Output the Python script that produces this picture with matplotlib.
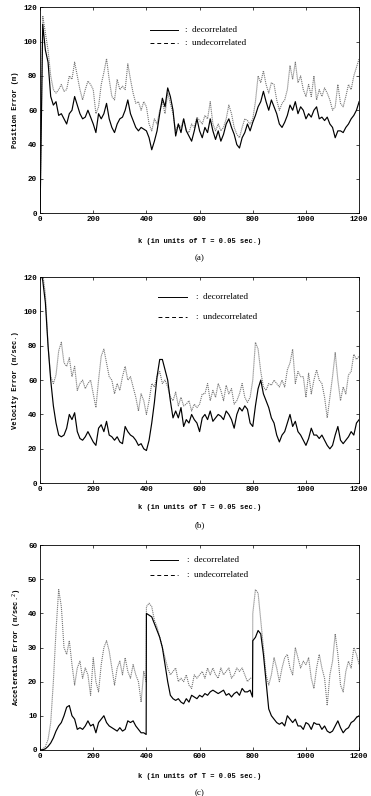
import numpy as np
import matplotlib
matplotlib.use("Agg")
import matplotlib.pyplot as plt

# time index (every 10 samples)
k = list(range(0, 1201, 10))

# (a) position error (m)
pos_dec = [0, 110, 95, 88, 68, 63, 65, 57, 58, 55, 52, 58, 60, 68, 63, 58, 55, 56, 60, 56,
           52, 47, 58, 55, 58, 64, 55, 50, 47, 52, 55, 56, 60, 66, 58, 54, 50, 48, 50, 49,
           48, 44, 37, 42, 48, 58, 67, 62, 73, 68, 60, 45, 52, 47, 55, 48, 45, 42, 48, 55,
           48, 44, 50, 47, 55, 48, 43, 48, 42, 46, 52, 55, 50, 46, 40, 38, 44, 47, 52, 48,
           53, 57, 62, 65, 71, 65, 60, 66, 62, 58, 52, 50, 53, 57, 63, 60, 65, 58, 62, 60,
           55, 58, 56, 60, 62, 55, 56, 54, 56, 52, 50, 44, 48, 48, 47, 50, 52, 55, 57, 60, 65]
pos_undec = [0, 115, 105, 95, 80, 72, 70, 72, 75, 71, 72, 80, 78, 88, 80, 72, 66, 72, 77, 75,
             72, 58, 62, 75, 82, 90, 78, 68, 66, 78, 72, 74, 72, 87, 78, 70, 64, 65, 60, 65,
             62, 52, 48, 55, 52, 60, 65, 58, 70, 64, 58, 48, 52, 50, 55, 48, 47, 52, 50, 56,
             54, 52, 57, 55, 65, 52, 48, 52, 48, 50, 55, 63, 58, 50, 46, 44, 50, 55, 54, 52,
             55, 65, 80, 76, 83, 75, 70, 76, 75, 66, 60, 64, 66, 72, 86, 78, 88, 76, 80, 72,
             68, 75, 68, 80, 66, 72, 68, 73, 70, 66, 60, 62, 75, 64, 62, 68, 75, 72, 80, 85, 90]

# (b) velocity error (m/sec.)
vel_dec = [125, 118, 105, 80, 60, 45, 35, 28, 27, 28, 32, 40, 37, 41, 30, 26, 25, 27, 30, 27,
           24, 22, 32, 34, 30, 36, 28, 27, 25, 27, 24, 23, 33, 30, 28, 27, 25, 22, 23, 20,
           19, 25, 35, 47, 62, 72, 72, 66, 60, 48, 38, 42, 38, 44, 33, 37, 35, 40, 37, 35,
           30, 38, 40, 37, 42, 36, 38, 40, 39, 37, 42, 40, 37, 32, 40, 44, 42, 45, 43, 35,
           33, 45, 55, 60, 52, 48, 44, 38, 35, 28, 24, 28, 30, 35, 40, 33, 36, 30, 28, 25,
           22, 26, 32, 28, 28, 26, 28, 25, 22, 20, 22, 28, 33, 25, 23, 25, 27, 30, 28, 35, 37]
vel_undec = [125, 122, 110, 80, 62, 58, 63, 77, 82, 70, 68, 73, 62, 68, 54, 58, 60, 55, 58, 60,
             52, 44, 60, 74, 78, 70, 62, 60, 52, 58, 54, 62, 68, 60, 62, 56, 50, 42, 52, 48,
             40, 48, 58, 56, 62, 65, 58, 60, 56, 50, 48, 53, 45, 50, 45, 46, 48, 42, 46, 44,
             46, 52, 52, 58, 48, 54, 50, 58, 54, 48, 57, 52, 55, 46, 48, 52, 58, 50, 47, 50,
             60, 82, 78, 65, 56, 54, 58, 57, 60, 58, 56, 60, 56, 66, 70, 78, 58, 65, 62, 62,
             50, 64, 52, 60, 66, 60, 58, 50, 38, 50, 62, 76, 60, 48, 56, 52, 63, 65, 75, 72, 74]

# (c) acceleration error (m/sec.^2), jumps at k = 400 and 800
k_c = [0, 10, 20, 30, 40, 50, 60, 70, 80, 90, 100, 110, 120, 130, 140, 150, 160, 170, 180, 190,
       200, 210, 220, 230, 240, 250, 260, 270, 280, 290, 300, 310, 320, 330, 340, 350, 360, 370,
       380, 390, 399, 400, 410, 420, 430, 440, 450, 460, 470, 480, 490, 500, 510, 520, 530, 540,
       550, 560, 570, 580, 590, 600, 610, 620, 630, 640, 650, 660, 670, 680, 690, 700, 710, 720,
       730, 740, 750, 760, 770, 780, 790, 799, 800, 810, 820, 830, 840, 850, 860, 870, 880, 890,
       900, 910, 920, 930, 940, 950, 960, 970, 980, 990, 1000, 1010, 1020, 1030, 1040, 1050,
       1060, 1070, 1080, 1090, 1100, 1110, 1120, 1130, 1140, 1150, 1160, 1170, 1180, 1190, 1200]
acc_dec = [0, 0, 0.3, 1, 2, 3.5, 5.5, 7, 8, 10, 12.5, 13, 10, 9, 6, 6.5, 6, 7, 8.5, 7,
           7.5, 5, 8, 9, 10, 8, 7, 6.5, 6, 5.5, 6.5, 5.5, 6, 8.5, 8, 8.5, 7, 6, 5, 5, 4.5,
           40, 39.5, 39, 37, 35, 33, 30, 25, 20, 16, 15, 14.5, 15, 14, 13.5, 15, 14, 16, 15.5,
           15, 16, 15.5, 16.5, 16, 17, 17.5, 17, 16.5, 17, 17.5, 16, 16.5, 15.5, 16.5, 17, 16,
           18, 17, 17, 17.5, 15.5,
           32, 33, 35, 34, 28, 20, 12, 10, 9, 8, 7.5, 8, 7, 10, 9, 8, 9, 7, 7, 6, 8, 7.5, 6,
           8, 7.5, 7.5, 6, 7, 5.5, 5, 5.5, 7, 8.5, 6.5, 5, 6, 6.5, 8, 8.5, 9.5, 10]
acc_undec = [0, 0.2, 1, 3, 8, 20, 35, 47, 42, 30, 28, 32, 25, 19, 24, 26, 21, 24, 22, 16,
             27, 20, 17, 25, 30, 32, 29, 24, 19, 24, 26, 22, 27, 23, 21, 25, 22, 20, 14, 23, 20,
             42, 43, 42, 38, 36, 33, 30, 27, 24, 22, 23, 24, 20, 21, 20, 22, 19, 18, 22, 21,
             22, 23, 21, 24, 22, 24, 22, 21, 24, 22, 23, 24, 21, 22, 24, 23, 24, 22, 20, 21, 21,
             40, 47, 46, 38, 30, 22, 19, 22, 27, 24, 20, 24, 27, 28, 24, 22, 30, 27, 24, 26, 25,
             27, 21, 18, 24, 28, 24, 21, 13, 22, 26, 34, 28, 19, 17, 23, 26, 24, 30, 28, 25]

serif = "Liberation Serif"
mono = "Liberation Mono"

fig = plt.figure(figsize=(3.71, 7.96), dpi=100)

panels = [
    ([0.108, 0.732, 0.860, 0.259], k, pos_dec, k, pos_undec, 120, 20, "Position Error (m)",
     (0.345, 0.433, 0.455, 0.888, 0.825), 0.697, 0.676, "(a)"),
    ([0.108, 0.393, 0.860, 0.259], k, vel_dec, k, vel_undec, 120, 20, "Velocity Error (m/sec.)",
     (0.37, 0.46, 0.49, 0.903, 0.806), 0.362, 0.340, "(b)"),
    ([0.108, 0.058, 0.860, 0.257], k_c, acc_dec, k_c, acc_undec, 60, 10,
     "Acceleration Error (m/sec.$^2$)",
     (0.345, 0.433, 0.462, 0.927, 0.854), 0.024, 0.004, "(c)"),
]

for rect, x1, y1, x2, y2, ymax, ystep, ylab, leg, xlab_y, tag_y, tag in panels:
    ax = fig.add_axes(rect)
    ax.plot(x2, y2, color="#777777", linestyle=(0, (1, 0.8)), linewidth=0.8)
    ax.plot(x1, y1, color="black", linewidth=0.85)
    ax.set_xlim(0, 1200)
    ax.set_ylim(0, ymax)
    ax.set_xticks(range(0, 1201, 200))
    ax.set_yticks(range(0, ymax + 1, ystep))
    ax.tick_params(direction="in", top=True, right=True, length=2.5, width=0.5,
                   labelsize=5.5, pad=2)
    for lbl in ax.get_xticklabels() + ax.get_yticklabels():
        lbl.set_fontfamily(mono)
        lbl.set_fontweight("bold")
    for sp in ax.spines.values():
        sp.set_linewidth(0.6)
    ax.set_ylabel(ylab, fontsize=5, fontfamily=mono, fontweight="bold", labelpad=3)

    # hand-drawn key as in the original
    x0, x1k, xt, ya, yb = leg
    ax.plot([x0, x1k], [ya, ya], transform=ax.transAxes, color="black", linewidth=0.7)
    ax.plot([x0, x1k], [yb, yb], transform=ax.transAxes, color="black", linewidth=0.7,
            linestyle=(0, (4, 3)))
    ax.text(xt, ya, ":  decorrelated", transform=ax.transAxes, fontsize=6.5,
            fontfamily=serif, va="center", ha="left")
    ax.text(xt, yb, ":  undecorrelated", transform=ax.transAxes, fontsize=6.5,
            fontfamily=serif, va="center", ha="left")

    fig.text(0.538, xlab_y, "k (in units of T = 0.05 sec.)", fontsize=5, fontfamily=mono,
             fontweight="bold", ha="center", va="center")
    fig.text(0.538, tag_y, tag, fontsize=6.5, fontfamily=serif, ha="center", va="center")

fig.savefig("out.png", dpi=100)
